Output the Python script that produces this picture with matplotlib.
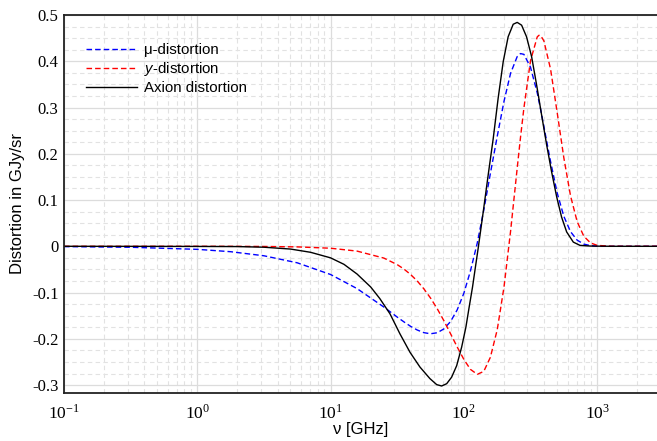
import matplotlib
matplotlib.use("Agg")
import matplotlib.pyplot as plt
from matplotlib.ticker import MultipleLocator, LogLocator, NullFormatter

plt.rcParams["font.family"] = ["Liberation Sans", "DejaVu Sans"]
plt.rcParams["mathtext.fontset"] = "custom"
plt.rcParams["mathtext.rm"] = "Liberation Serif"
plt.rcParams["mathtext.it"] = "Liberation Sans:italic"
plt.rcParams["axes.unicode_minus"] = False

# frequency grid (GHz) for the mu- and y-distortion curves
nu_model = [0.1, 0.316, 1.0, 1.78, 3.16, 5.62, 10.0, 15.8, 25.1, 31.6, 35.5,
            39.8, 44.7, 50.1, 56.2, 63.1, 70.8, 79.4, 89.1, 100, 112, 126,
            141, 158, 178, 200, 224, 251, 266, 282, 316, 355, 365, 376, 398,
            447, 501, 562, 631, 708, 794, 891, 1000, 1260, 1580, 2810]

mu_values = [-0.0007, -0.0021, -0.0066, -0.0117, -0.0205, -0.0357, -0.0610,
             -0.0915, -0.1313, -0.1530, -0.1634, -0.1730, -0.1810, -0.1867,
             -0.1891, -0.1869, -0.1786, -0.1627, -0.1374, -0.1013, -0.0532,
             0.0070, 0.0784, 0.1573, 0.2381, 0.3136, 0.3740, 0.4099, 0.4166,
             0.4149, 0.3872, 0.3317, 0.3146, 0.2968, 0.2591, 0.1830, 0.1155,
             0.0648, 0.0316, 0.0132, 0.0047, 0.0014, 0.0003, 0.0, 0.0, 0.0]

y_values = [0.0, 0.0, 0.0, -0.0001, -0.0004, -0.0013, -0.0042, -0.0104,
            -0.0255, -0.0396, -0.0492, -0.0609, -0.0751, -0.0920, -0.1119,
            -0.1350, -0.1609, -0.1889, -0.2177, -0.2446, -0.2661, -0.2768,
            -0.2704, -0.2400, -0.1800, -0.0878, 0.0325, 0.1682, 0.2360,
            0.2990, 0.4010, 0.4526, 0.4560, 0.4559, 0.4442, 0.3829, 0.2892,
            0.1914, 0.1090, 0.0530, 0.0217, 0.0073, 0.0020, 0.0001, 0.0, 0.0]

# axion distortion curve
nu_axion = [0.1, 1.0, 2.0, 3.16, 5.01, 7.08, 10.0, 12.6, 15.8, 20.0, 23.4,
            27.9, 33.1, 39.4, 46.8, 55.6, 62.5, 68.1, 74.3, 80.9, 88.3, 96.2,
            103.5, 109.6, 116.1, 121.6, 127.9, 139.6, 152.1, 166.0, 180.7,
            197.2, 214.8, 234.4, 251.2, 271.0, 295.1, 322.1, 351.6, 382.8,
            417.8, 455.0, 496.6, 540.8, 590.2, 662.2, 743.0, 891, 1260, 2810]

axion_values = [0.0, -0.0003, -0.0006, -0.002, -0.006, -0.013, -0.025,
                -0.039, -0.060, -0.088, -0.113, -0.146, -0.189, -0.229,
                -0.261, -0.286, -0.299, -0.302, -0.297, -0.283, -0.258,
                -0.218, -0.175, -0.131, -0.088, -0.048, -0.005, 0.074,
                0.154, 0.233, 0.320, 0.399, 0.453, 0.480, 0.484, 0.478,
                0.453, 0.410, 0.348, 0.284, 0.219, 0.161, 0.107, 0.063,
                0.031, 0.009, 0.002, 0.0005, 0.0, 0.0]

x_ticks = [0.1, 1, 10, 100, 1000]
x_tick_labels = [r"$10^{-1}$", r"$10^{0}$", r"$10^{1}$", r"$10^{2}$", r"$10^{3}$"]
y_ticks = [-0.3, -0.2, -0.1, 0.0, 0.1, 0.2, 0.3, 0.4, 0.5]
y_tick_labels = ["-0.3", "-0.2", "-0.1", "0", "0.1", "0.2", "0.3", "0.4", "0.5"]


fig = plt.figure(figsize=(6.57, 4.41), dpi=100, facecolor="white")
ax = fig.add_axes([0.0974, 0.109, 0.9026, 0.857])

ax.plot(nu_model, mu_values, color="blue", lw=1.0, ls=(0, (4, 2.2)),
        label="\u03bc-distortion")
ax.plot(nu_model, y_values, color="red", lw=1.0, ls=(0, (4, 2.2)),
        label="$y$-distortion")
ax.plot(nu_axion, axion_values, color="black", lw=1.0,
        label="Axion distortion")

ax.set_xscale("log")
ax.set_xlim(0.1, 2810)
ax.set_ylim(-0.317, 0.5)

ax.set_xticks(x_ticks)
ax.set_xticklabels(x_tick_labels, fontsize=12.5)
ax.xaxis.set_minor_locator(LogLocator(base=10, subs=range(2, 10), numticks=20))
ax.xaxis.set_minor_formatter(NullFormatter())

ax.set_yticks(y_ticks)
ax.set_yticklabels(y_tick_labels, fontsize=12, family="Liberation Serif")
ax.yaxis.set_minor_locator(MultipleLocator(0.025))

ax.tick_params(which="both", length=0)
ax.tick_params(axis="x", pad=7.5)
ax.tick_params(axis="y", pad=4)

ax.set_axisbelow(True)
ax.grid(True, which="major", color="#dcdcdc", lw=0.9, ls="-")
ax.grid(True, which="minor", color="#e2e2e2", lw=0.8, ls=(0, (4, 3)))

for side in ["left", "bottom", "top"]:
    ax.spines[side].set_linewidth(1.3)
    ax.spines[side].set_color("#222222")
ax.spines["right"].set_visible(False)

ax.set_xlabel("\u03bd [GHz]", fontsize=12, labelpad=0)
ax.set_ylabel("Distortion in GJy/sr", fontsize=12, labelpad=5)

ax.legend(loc="upper left", bbox_to_anchor=(0.022, 0.95), frameon=False,
          fontsize=10.8, handlelength=3.4, handletextpad=0.45,
          labelspacing=0.2, borderaxespad=0.2)

fig.savefig("out.png", dpi=100, facecolor="white")
